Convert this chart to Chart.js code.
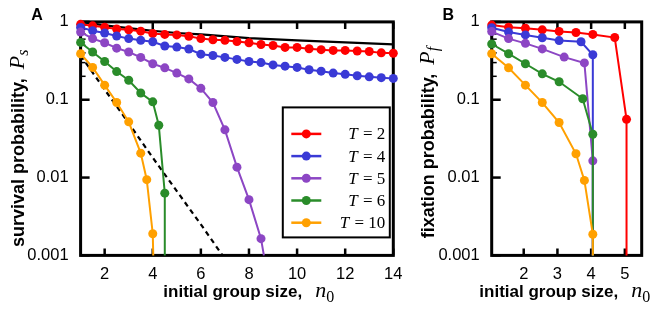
<!DOCTYPE html>
<html>
<head>
<meta charset="utf-8">
<title>Survival and fixation probability</title>
<script src="https://cdn.jsdelivr.net/npm/chart.js@4.4.1/dist/chart.umd.min.js"></script>
<style>
  body { margin: 0; background: #fff; }
  #wrap { position: relative; width: 664px; height: 315px; }
  #chartA { position: absolute; left: 0; top: 0; }
  #chartB { position: absolute; left: 415px; top: 0; }
</style>
</head>
<body>
<div id="wrap">
  <canvas id="chartA" width="415" height="315"></canvas>
  <canvas id="chartB" width="249" height="315"></canvas>
</div>
<script>
// ---- data ----
const seriesLabels = ['T = 2', 'T = 4', 'T = 5', 'T = 6', 'T = 10'];
const seriesColors = ['#ff0000', '#3a3ad6', '#8c46c4', '#2a8c2a', '#ffa000'];

const yTicks = [0.001, 0.01, 0.1, 1];
const yMinorTicks = [0.2, 0.3, 0.4, 0.5, 0.6, 0.7, 0.8, 0.9];
const xTicksA = [2, 4, 6, 8, 10, 12, 14];
const xTicksB = [2, 3, 4, 5];

// panel A: survival probability vs initial group size
const nA = [1, 1.5, 2, 2.5, 3, 3.5, 4, 4.5, 5, 5.5, 6, 6.5, 7, 7.5, 8, 8.5, 9, 9.5, 10,
  10.5, 11, 11.5, 12, 12.5, 13, 13.5, 14];
const survT2 = [0.93, 0.89, 0.855, 0.81, 0.79, 0.76, 0.71, 0.69, 0.68, 0.655, 0.61, 0.59, 0.58,
  0.56, 0.54, 0.513, 0.497, 0.47, 0.47, 0.452, 0.44, 0.43, 0.43, 0.423, 0.417, 0.40, 0.395];
const survT4 = [0.85, 0.77, 0.72, 0.66, 0.61, 0.58, 0.555, 0.49, 0.475, 0.448, 0.385, 0.37, 0.35,
  0.33, 0.31, 0.30, 0.28, 0.27, 0.26, 0.243, 0.233, 0.22, 0.212, 0.203, 0.197, 0.192, 0.188];
// last point of a curve is where it leaves the plot (drops to 0)
const nT5 = [1, 1.5, 2, 2.5, 3, 3.5, 4, 4.5, 5, 5.5, 6, 6.5, 7, 7.5, 8, 8.5, 8.62];
const survT5 = [0.74, 0.61, 0.54, 0.46, 0.41, 0.35, 0.29, 0.257, 0.22, 0.185, 0.14, 0.092, 0.041,
  0.0136, 0.0052, 0.00164, 0.001];
const nT6 = [1, 1.5, 2, 2.5, 3, 3.5, 4, 4.25, 4.5, 4.5];
const survT6 = [0.545, 0.41, 0.31, 0.23, 0.178, 0.122, 0.094, 0.047, 0.0063, 0.001];
const nT10 = [1, 1.5, 2, 2.5, 3, 3.5, 3.75, 4, 4.02];
const survT10 = [0.39, 0.26, 0.154, 0.092, 0.052, 0.0206, 0.0094, 0.0019, 0.001];
const nUpper = [1, 2, 3, 4, 5, 6, 8, 10, 12, 14];
const survUpper = [1.0, 0.90, 0.83, 0.77, 0.72, 0.69, 0.62, 0.58, 0.545, 0.514];
const nDashed = [1, 2, 3, 4, 5, 6, 6.9];
const survDashed = [0.37, 0.135, 0.05, 0.018, 0.0067, 0.0025, 0.001];

// panel B: fixation probability vs initial group size
const nBT2 = [1.05, 1.55, 2.05, 2.55, 3.05, 3.55, 4.05, 4.7, 5.05, 5.05];
const fixT2 = [0.91, 0.855, 0.83, 0.79, 0.755, 0.73, 0.69, 0.63, 0.056, 0.001];
const nBT4 = [1.05, 1.55, 2.05, 2.55, 3.05, 3.7, 4.05, 4.05];
const fixT4 = [0.84, 0.74, 0.68, 0.625, 0.575, 0.555, 0.378, 0.001];
const nBT5 = [1.05, 1.55, 2.05, 2.55, 3.2, 3.8, 4.05, 4.05];
const fixT5 = [0.75, 0.61, 0.53, 0.45, 0.353, 0.297, 0.0164, 0.001];
const nBT6 = [1.05, 1.55, 2.05, 2.55, 3.05, 3.75, 4.05, 4.05];
const fixT6 = [0.52, 0.39, 0.29, 0.215, 0.17, 0.103, 0.036, 0.001];
const nBT10 = [1.05, 1.55, 2.05, 2.55, 3.05, 3.55, 3.8, 4.05, 4.05];
const fixT10 = [0.39, 0.257, 0.154, 0.092, 0.051, 0.0202, 0.0092, 0.00187, 0.001];

const Y_MIN = 0.001;
const Y_MAX = 1;

// ---- helpers ----
function toPoints(xs, ys) {
  return xs.map((x, k) => ({ x: x, y: ys[k] }));
}

function seriesDataset(xs, ys, i) {
  return {
    label: seriesLabels[i],
    data: toPoints(xs, ys),
    borderColor: seriesColors[i],
    backgroundColor: seriesColors[i],
    borderWidth: 2,
    pointRadius: ys.map(v => (v <= Y_MIN ? 0 : 4.5)),
    pointBorderWidth: 0,
    pointHoverRadius: 0,
    tension: 0,
    clip: false,
    order: seriesLabels.length - i
  };
}

function blackDataset(xs, ys, dash) {
  return {
    data: toPoints(xs, ys),
    borderColor: '#000',
    borderWidth: 2.2,
    borderDash: dash,
    pointRadius: 0,
    pointHoverRadius: 0,
    tension: 0,
    clip: false,
    order: 10
  };
}

const tickFont = { family: '"Liberation Sans", Arial, sans-serif', size: 16.5 };

function yScaleOptions(width) {
  return {
    type: 'logarithmic',
    min: Y_MIN,
    max: Y_MAX,
    afterBuildTicks: s => { s.ticks = yTicks.map(v => ({ value: v })); },
    afterFit: s => { s.width = width; },
    grid: { display: false, drawTicks: false },
    border: { display: false },
    ticks: { color: '#000', font: tickFont, padding: 12, autoSkip: false, callback: v => String(v) }
  };
}

function xScaleOptions(min, max, ticks) {
  return {
    type: 'linear',
    min: min,
    max: max,
    afterBuildTicks: s => { s.ticks = ticks.map(v => ({ value: v })); },
    afterFit: s => { s.height = 59.6; },
    grid: { display: false, drawTicks: false },
    border: { display: false },
    ticks: { color: '#000', font: tickFont, padding: 9, autoSkip: false, maxRotation: 0,
      callback: v => String(v) }
  };
}

// bold words followed by an italic symbol with a subscript
function drawTitle(ctx, x0, y0, vertical, size, gap, words, sym, sub) {
  ctx.save();
  ctx.translate(x0, y0);
  if (vertical) ctx.rotate(-Math.PI / 2);
  ctx.fillStyle = '#000';
  ctx.textAlign = 'left';
  ctx.textBaseline = 'alphabetic';
  ctx.font = 'bold ' + size + 'px "Liberation Sans", Arial, sans-serif';
  ctx.fillText(words, 0, 0);
  let x = ctx.measureText(words).width + gap;
  ctx.font = 'italic 22px "Liberation Serif", serif';
  ctx.fillText(sym, x, 0);
  x += ctx.measureText(sym).width;
  ctx.font = (/[0-9]/.test(sub) ? '' : 'italic ') + '16px "Liberation Serif", serif';
  ctx.fillText(sub, x, 4.5);
  ctx.restore();
}

// frame with inward ticks, drawn under the data like the original
const framePlugin = {
  id: 'frame',
  beforeDatasetsDraw(chart, args, opts) {
    const { ctx, chartArea: a, scales: { x, y } } = chart;
    ctx.save();
    ctx.strokeStyle = '#000';
    ctx.lineCap = 'butt';
    ctx.lineWidth = 2.5;
    opts.xTicks.forEach(v => {
      const px = x.getPixelForValue(v);
      ctx.beginPath();
      ctx.moveTo(px, a.bottom); ctx.lineTo(px, a.bottom - 7);
      ctx.moveTo(px, a.top); ctx.lineTo(px, a.top + 7);
      ctx.stroke();
    });
    yTicks.forEach(v => {
      const py = y.getPixelForValue(v);
      ctx.beginPath();
      ctx.moveTo(a.left, py); ctx.lineTo(a.left + 9, py);
      ctx.stroke();
    });
    ctx.lineWidth = 1.5;
    yMinorTicks.forEach(v => {
      const py = y.getPixelForValue(v);
      ctx.beginPath();
      ctx.moveTo(a.left, py); ctx.lineTo(a.left + 5, py);
      ctx.stroke();
    });
    ctx.lineWidth = 3;
    ctx.strokeRect(a.left, a.top, a.right - a.left, a.bottom - a.top);
    ctx.restore();
  },
  afterDraw(chart, args, opts) {
    const ctx = chart.ctx;
    const a = chart.chartArea;
    ctx.save();
    ctx.fillStyle = '#000';
    ctx.font = 'bold 16px "Liberation Sans", Arial, sans-serif';
    ctx.textAlign = 'center';
    ctx.textBaseline = 'middle';
    ctx.fillText(opts.panel, a.left - 43.5, 16);
    ctx.restore();
    drawTitle(ctx, opts.yTitleX, opts.yTitleY, true, 18, 9, opts.yWords, 'P', opts.ySub);
    drawTitle(ctx, opts.xTitleX, 297, false, 17, 13, 'initial group size,', 'n', '0');
  }
};

const legendPlugin = {
  id: 'boxLegend',
  afterDraw(chart, args, opts) {
    if (!opts.show) return;
    const { ctx, chartArea: a } = chart;
    const right = a.right - 3.5;
    const bottom = a.bottom - 18;
    const left = right - 107;
    const top = bottom - 130;
    ctx.save();
    ctx.fillStyle = '#fff';
    ctx.fillRect(left, top, right - left, bottom - top);
    ctx.strokeStyle = '#000';
    ctx.lineWidth = 2;
    ctx.strokeRect(left, top, right - left, bottom - top);
    seriesLabels.forEach((label, i) => {
      const yy = top + 26.5 + i * 22.2;
      ctx.strokeStyle = seriesColors[i];
      ctx.fillStyle = seriesColors[i];
      ctx.lineWidth = 2.5;
      ctx.beginPath();
      ctx.moveTo(left + 8.5, yy); ctx.lineTo(left + 38.5, yy);
      ctx.stroke();
      ctx.beginPath();
      ctx.arc(left + 23.5, yy, 4.5, 0, Math.PI * 2);
      ctx.fill();
      ctx.fillStyle = '#000';
      ctx.textBaseline = 'middle';
      ctx.textAlign = 'left';
      const sym = label.charAt(0);
      const rest = label.slice(1);
      ctx.font = '17px "Liberation Serif", serif';
      const wRest = ctx.measureText(rest).width;
      ctx.font = 'italic 17px "Liberation Serif", serif';
      const wSym = ctx.measureText(sym).width;
      const x0 = right - 5.5 - wRest - wSym;
      ctx.fillText(sym, x0, yy + 1);
      ctx.font = '17px "Liberation Serif", serif';
      ctx.fillText(rest, x0 + wSym + 1, yy + 1);
    });
    ctx.restore();
  }
};

const commonPlugins = { legend: { display: false }, tooltip: { enabled: false } };

new Chart(document.getElementById('chartA'), {
  type: 'line',
  data: {
    datasets: [
      blackDataset(nUpper, survUpper, []),
      blackDataset(nDashed, survDashed, [5, 4]),
      seriesDataset(nA, survT2, 0),
      seriesDataset(nA, survT4, 1),
      seriesDataset(nT5, survT5, 2),
      seriesDataset(nT6, survT6, 3),
      seriesDataset(nT10, survT10, 4)
    ]
  },
  options: {
    responsive: false,
    animation: false,
    events: [],
    layout: { padding: { top: 16.3, right: 21.7, left: 0, bottom: 0 } },
    scales: {
      x: xScaleOptions(1, 14, xTicksA),
      y: yScaleOptions(80.6)
    },
    plugins: Object.assign({}, commonPlugins, {
      frame: { xTicks: xTicksA, panel: 'A', yWords: 'survival probability,', ySub: 's',
        yTitleX: 23.5, yTitleY: 247, xTitleX: 163.3 },
      boxLegend: { show: true }
    })
  },
  plugins: [framePlugin, legendPlugin]
});

new Chart(document.getElementById('chartB'), {
  type: 'line',
  data: {
    datasets: [
      seriesDataset(nBT2, fixT2, 0),
      seriesDataset(nBT4, fixT4, 1),
      seriesDataset(nBT5, fixT5, 2),
      seriesDataset(nBT6, fixT6, 3),
      seriesDataset(nBT10, fixT10, 4)
    ]
  },
  options: {
    responsive: false,
    animation: false,
    events: [],
    layout: { padding: { top: 16.3, right: 22.3, left: 0, bottom: 0 } },
    scales: {
      x: xScaleOptions(1.05, 5.5, xTicksB),
      y: yScaleOptions(76.7)
    },
    plugins: Object.assign({}, commonPlugins, {
      frame: { xTicks: xTicksB, panel: 'B', yWords: 'fixation probability,', ySub: 'f',
        yTitleX: 18.5, yTitleY: 238.3, xTitleX: 64.3 },
      boxLegend: { show: false }
    })
  },
  plugins: [framePlugin, legendPlugin]
});
</script>
</body>
</html>
